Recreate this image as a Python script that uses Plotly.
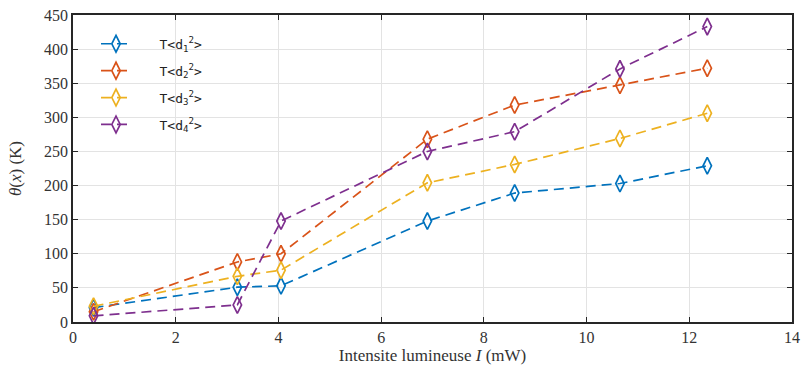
import plotly.graph_objects as go

x_vals = [0.4, 3.2, 4.05, 6.9, 8.6, 10.65, 12.35]
d1 = [21, 51, 53, 148, 189, 203, 229]
d2 = [15, 88, 100, 268, 318, 347, 372]
d3 = [23, 67, 76, 204, 231, 269, 306]
d4 = [9, 25, 148, 250, 279, 371, 433]
names = ["&nbsp;&nbsp;&nbsp;T&lt;d<sub>1</sub><sup>2</sup>&gt;", "&nbsp;&nbsp;&nbsp;T&lt;d<sub>2</sub><sup>2</sup>&gt;",
         "&nbsp;&nbsp;&nbsp;T&lt;d<sub>3</sub><sup>2</sup>&gt;", "&nbsp;&nbsp;&nbsp;T&lt;d<sub>4</sub><sup>2</sup>&gt;"]
colors = ["#0072BD", "#D95319", "#EDB120", "#7E2F8E"]
x_ticks = [0, 2, 4, 6, 8, 10, 12, 14]
y_ticks = [0, 50, 100, 150, 200, 250, 300, 350, 400, 450]

SERIF = "Liberation Serif"
MONO = "DejaVu Sans Mono"

fig = go.Figure()
for i, (ys, nm, c) in enumerate(zip([d1, d2, d3, d4], names, colors)):
    fig.add_trace(go.Scatter(
        x=x_vals, y=ys, name=nm, mode="lines+markers", legendgroup=f"g{i}",
        line=dict(color=c, width=1.7, dash="10px,6px"),
        marker=dict(symbol="diamond-tall-open", size=12, color=c, line=dict(width=1.7, color=c)),
    ))

axis_common = dict(
    showline=True, linecolor="#262626", linewidth=1.5, mirror="ticks",
    ticks="inside", ticklen=5, tickcolor="#262626", tickwidth=1.2,
    showgrid=True, gridcolor="#e3e3e3", gridwidth=1.3, zeroline=False,
    tickfont=dict(family=SERIF, size=16, color="#333333"),
)
fig.update_xaxes(range=[0, 14], tickvals=x_ticks,
                 title=dict(text="Intensite lumineuse <i>I</i> (mW)", standoff=4,
                            font=dict(family=SERIF, size=17, color="#333333")),
                 **axis_common)
fig.update_yaxes(range=[0, 450], tickvals=y_ticks,
                 title=dict(text="<i>θ</i>(<i>x</i>) (K)", standoff=18,
                            font=dict(family=SERIF, size=17, color="#333333")),
                 **axis_common)
fig.update_layout(
    width=807, height=374,
    margin=dict(l=73, r=15, t=7, b=52),
    plot_bgcolor="white", paper_bgcolor="white",
    font=dict(family=SERIF, size=16, color="#333333"),
    legend=dict(x=0.032, y=0.955, xanchor="left", yanchor="top",
                bgcolor="rgba(255,255,255,0)", tracegroupgap=7,
                font=dict(family=MONO, size=13, color="#222222")),
)
fig.write_html("out.html", config={"displayModeBar": False},
               post_script="document.body.style.margin='0';")
